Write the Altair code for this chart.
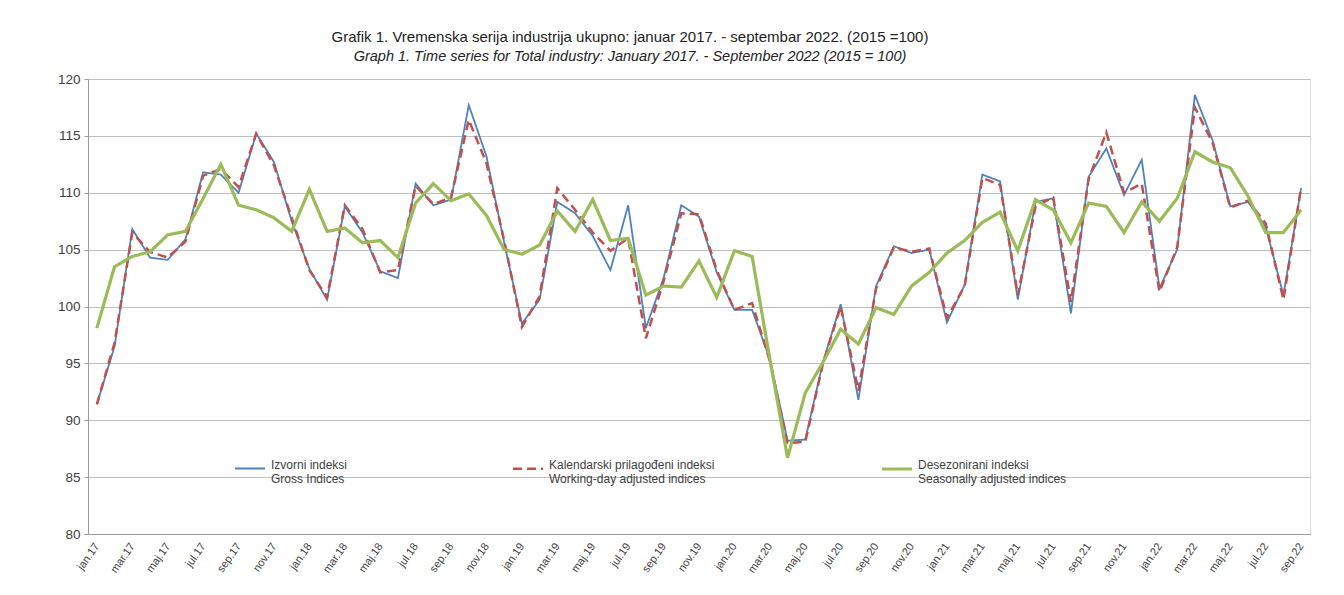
import altair as alt
import pandas as pd

# --- data -------------------------------------------------------------
month_names = ["jan", "feb", "mar", "apr", "maj", "jun", "jul", "avg", "sep", "okt", "nov", "dec"]
years = ["17", "18", "19", "20", "21", "22"]
months = [f"{m}.{y}" for y in years for m in month_names][:69]   # jan.17 .. sep.22

gross = [91.4, 96.5, 106.8, 104.3, 104.1, 105.9, 111.8, 111.6, 110.0, 115.2, 112.7, 107.5,
         103.3, 100.6, 108.8, 106.5, 103.1, 102.5, 110.8, 108.9, 109.4, 117.7, 113.2, 105.6,
         98.5, 100.6, 109.2, 108.2, 106.2, 103.2, 108.9, 98.1, 102.5, 108.9, 107.9, 103.0,
         99.7, 99.7, 95.4, 88.2, 88.3, 95.1, 100.2, 91.8, 101.8, 105.3, 104.7, 105.0,
         98.6, 101.9, 111.6, 111.0, 100.6, 109.2, 109.5, 99.4, 111.4, 113.9, 109.8, 112.9,
         101.6, 105.0, 118.6, 114.6, 108.8, 109.2, 107.0, 101.0, 110.4]

working_day = [91.4, 96.8, 106.5, 104.8, 104.3, 105.7, 111.5, 112.1, 110.5, 115.2, 112.4, 107.8,
               103.2, 100.8, 108.9, 106.8, 103.0, 103.2, 110.6, 109.0, 109.6, 116.4, 112.6, 105.8,
               98.2, 100.9, 110.4, 108.5, 106.5, 104.9, 106.0, 97.2, 102.2, 108.2, 108.1, 103.2,
               99.7, 100.3, 95.2, 88.0, 88.1, 95.0, 100.0, 92.6, 101.6, 105.2, 104.8, 105.1,
               99.0, 101.8, 111.3, 110.7, 101.0, 108.8, 109.6, 100.4, 111.2, 115.3, 110.0, 110.8,
               101.3, 105.2, 117.5, 114.4, 108.7, 109.3, 107.3, 100.6, 110.5]

seasonal = [98.1, 103.5, 104.4, 104.8, 106.3, 106.6, 109.5, 112.5, 108.9, 108.5, 107.8, 106.6,
            110.3, 106.6, 106.9, 105.6, 105.8, 104.3, 109.1, 110.8, 109.3, 109.9, 108.0, 105.0,
            104.6, 105.4, 108.4, 106.6, 109.4, 105.8, 106.0, 101.0, 101.8, 101.7, 104.0, 100.8,
            104.9, 104.4, 95.4, 86.7, 92.4, 95.1, 98.0, 96.7, 99.9, 99.3, 101.8, 103.0,
            104.7, 105.8, 107.4, 108.3, 104.9, 109.4, 108.5, 105.6, 109.1, 108.8, 106.5, 109.2,
            107.5, 109.5, 113.6, 112.7, 112.2, 109.7, 106.5, 106.5, 108.5]

series_names = ["Izvorni indeksi|Gross Indices",
                "Kalendarski prilagođeni indeksi|Working-day adjusted indices",
                "Desezonirani indeksi|Seasonally adjusted indices"]
series_colors = ["#4F81BD", "#C0504D", "#9BBB59"]
series_dash = [[1, 0], [9, 5], [1, 0]]
series_width = [1.8, 3.2, 2.4]

rows = []
for name, vals in zip(series_names, [gross, working_day, seasonal]):
    for m, v in zip(months, vals):
        rows.append({"month": m, "value": v, "series": name})
df = pd.DataFrame(rows)

FONT = "Liberation Sans"

base = alt.Chart(df).encode(
    x=alt.X("month:O", sort=months, title=None,
            axis=alt.Axis(values=months[::2], labelAngle=-55, labelAlign="right",
                          labelBaseline="middle", labelFontSize=11, labelColor="#404040",
                          labelFont=FONT, domainColor="#9a9a9a", ticks=False,
                          labelPadding=10, grid=False)),
    y=alt.Y("value:Q", title=None,
            scale=alt.Scale(domain=[80, 120], nice=False, zero=False),
            axis=alt.Axis(values=list(range(80, 121, 5)), labelFontSize=13.5, labelColor="#404040",
                          labelFont=FONT, domainColor="#9a9a9a", tickColor="#9a9a9a",
                          tickSize=4, labelPadding=4, grid=True, gridColor="#bfbfbf",
                          gridWidth=1)),
    color=alt.Color("series:N", scale=alt.Scale(domain=series_names, range=series_colors),
                    legend=alt.Legend(title=None, orient="none", legendX=145, legendY=373,
                                      direction="horizontal", columns=3, columnPadding=160,
                                      symbolType="stroke", symbolSize=900,
                                      labelExpr="split(datum.label, '|')",
                                      labelFontSize=12, labelFont=FONT, labelColor="#404040",
                                      labelBaseline="alphabetic", labelLimit=300,
                                      labelOffset=4)),
    strokeDash=alt.StrokeDash("series:N", scale=alt.Scale(domain=series_names, range=series_dash),
                              legend=alt.Legend(title=None)),
    strokeWidth=alt.StrokeWidth("series:N", scale=alt.Scale(domain=series_names, range=series_width),
                                legend=alt.Legend(title=None)),
)

layers = [base.transform_filter(alt.datum.series == s).mark_line() for s in series_names]

chart = alt.layer(*layers).properties(
    width=1222, height=455,
    autosize=alt.AutoSizeParams(type="none"),
    padding={"left": 80, "top": 71, "right": 10, "bottom": 60},
    title=alt.Title(
        text="Grafik 1. Vremenska serija industrija ukupno: januar 2017. - septembar 2022. (2015 =100)",
        subtitle="Graph 1. Time series for Total industry: January 2017. - September 2022 (2015 = 100)",
        anchor="middle", dx=-69, offset=9, font=FONT, fontSize=15, fontWeight="normal",
        color="#222222", subtitleFont=FONT, subtitleFontSize=14.5, subtitleFontStyle="italic",
        subtitleColor="#222222", subtitlePadding=5),
).configure_view(stroke=None).configure(background="white")

chart.save("out.html", embed_options={"renderer": "svg", "actions": False})
